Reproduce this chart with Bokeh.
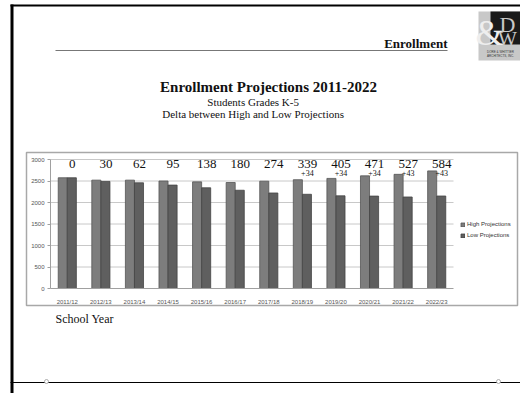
from bokeh.plotting import figure
from bokeh.models import (ColumnDataSource, Range1d, LinearAxis, FixedTicker,
                          Legend, LegendItem)
from bokeh.core.properties import value
from bokeh.embed import file_html
from bokeh.resources import INLINE

years = ["2011/12", "2012/13", "2013/14", "2014/15", "2015/16", "2016/17",
         "2017/18", "2018/19", "2019/20", "2020/21", "2021/22", "2022/23"]
high = [2575, 2520, 2520, 2500, 2480, 2465, 2495, 2530, 2560, 2620, 2655, 2735]
low = [2575, 2490, 2458, 2405, 2342, 2285, 2221, 2191, 2155, 2149, 2128, 2151]
delta = ["0", "30", "62", "95", "138", "180", "274", "339", "405", "471", "527", "584"]
extra = ["", "", "", "", "", "", "", "+34", "+34", "+34", "+43", "+43"]
y_ticks = [0, 500, 1000, 1500, 2000, 2500, 3000]
y_max = 3000

W, H = 520, 393
FL, FR, FT, FB = 50, 453, 159, 288          # plot-area pixel box
n = len(years)
PX = (FR - FL) / n                          # pixels per category
PY = (FB - FT) / y_max                      # pixels per student


def X(px):
    return (px - FL) / PX


def Y(py):
    return (FB - py) / PY


p = figure(width=W, height=H, x_range=Range1d(X(0), X(W)), y_range=Range1d(Y(H), Y(0)),
           output_backend="svg", toolbar_location=None, x_axis_type=None,
           y_axis_type=None, min_border=0)
p.outline_line_color = None
p.grid.visible = False
p.background_fill_color = "white"
p.border_fill_color = "white"

centers = [i + 0.5 for i in range(n)]
src = ColumnDataSource(dict(x=centers, xh=[c - 0.135 for c in centers],
                            xl=[c + 0.135 for c in centers], high=high, low=low,
                            delta=delta, extra=extra, xt=centers,
                            ty=[2900] * n, ey=[2675] * n))

# chart box
p.quad(left=X(26), right=X(517), top=Y(152), bottom=Y(305), fill_color=None,
       line_color="#a8a8a8", line_width=1.5)

# gridlines (only across the plot area)
gl = [t for t in y_ticks if t > 0]
p.segment(x0=[0] * len(gl), x1=[n] * len(gl), y0=gl, y1=gl, line_color="#c8c8c8",
          line_width=1)

hb = p.vbar(x="xh", top="high", bottom=0, width=0.27, source=src,
            fill_color="#7d7d7d", line_color="#555555", line_width=0.8)
lb = p.vbar(x="xl", top="low", bottom=0, width=0.27, source=src,
            fill_color="#5f5f5f", line_color="#444444", line_width=0.8)

p.text(x="xt", y="ty", text="delta", source=src, x_offset=5,
       text_font=value("Liberation Serif"), text_font_size="13px",
       text_align="center", text_baseline="middle", text_color="#111111")
p.text(x="xt", y="ey", text="extra", source=src, x_offset=5,
       text_font=value("Liberation Serif"), text_font_size="8px",
       text_align="center", text_baseline="middle", text_color="#111111")

yax = LinearAxis(fixed_location=0, bounds=(0, y_max), ticker=FixedTicker(ticks=y_ticks))
xax = LinearAxis(fixed_location=0, bounds=(0, n), ticker=FixedTicker(ticks=centers),
                 major_label_overrides={c: y for c, y in zip(centers, years)})
for ax in (xax, yax):
    ax.axis_line_color = "#a0a0a0"
    ax.major_label_text_font = "Liberation Sans"
    ax.major_label_text_font_size = "6px"
    ax.major_label_text_color = "#555555"
    ax.minor_tick_line_color = None
yax.major_tick_line_color = "#a0a0a0"
yax.major_tick_out = 3
yax.major_tick_in = 0
yax.major_label_standoff = 3
xax.major_tick_line_color = None
xax.major_label_standoff = 4
p.add_layout(yax, "left")
p.add_layout(xax, "below")

legend = Legend(items=[LegendItem(label="High Projections", renderers=[hb]),
                       LegendItem(label="Low Projections", renderers=[lb])],
                location=(460, H - 238), label_text_font="Liberation Sans",
                label_text_font_size="6px", label_text_color="#333333",
                glyph_width=5, glyph_height=5, label_standoff=2, spacing=5,
                padding=0, margin=0, border_line_color=None,
                background_fill_alpha=0, label_height=6)
p.add_layout(legend)


def txt(t, x, y, size, font="Liberation Serif", style="normal", color="#111111",
        align="left"):
    p.text(x=[X(x)], y=[Y(y)], text=[t], text_font=value(font), text_font_size=size,
           text_font_style=style, text_color=color, text_align=align,
           text_baseline="middle")


def rect(x0, y0, x1, y1, fill):
    p.quad(left=X(x0), right=X(x1), top=Y(y0), bottom=Y(y1), fill_color=fill,
           line_color=None)


# slide frame
rect(10, 4, 520, 6, "black")
rect(10, 4, 13, 393, "black")
rect(10, 381.5, 520, 382.5, "black")
p.scatter(x=[X(46), X(498)], y=[Y(381), Y(381)], size=4, marker="circle",
          fill_color="white", line_color="#999999", line_width=0.8)

# header
txt("Enrollment", 447, 43, "13px", style="bold", align="right")
rect(55, 49.5, 447, 50.5, "#777777")

# logo
rect(478, 11, 520, 60, "#c8c8c8")
rect(490, 11, 520, 44, "#1a1a1a")
txt("D", 507, 24, "22px", color="#c8c8c8", align="center")
txt("W", 507, 38, "20px", color="#c8c8c8", align="center")
txt("&", 489, 32, "36px", color="#eeeeee", align="center")
txt("DORE & WHITTIER", 500, 51, "3px", font="Liberation Sans", color="#333333",
    align="center")
txt("ARCHITECTS, INC.", 500, 55, "3px", font="Liberation Sans", color="#333333",
    align="center")

# titles
txt("Enrollment Projections 2011-2022", 268, 86, "15px", style="bold", align="center")
txt("Students  Grades K-5", 254, 101, "11px", align="center")
txt("Delta  between High and Low Projections", 254, 113, "11px", align="center")

txt("School Year", 55, 318, "12px")

open("out.html", "w").write(file_html(p, INLINE))
